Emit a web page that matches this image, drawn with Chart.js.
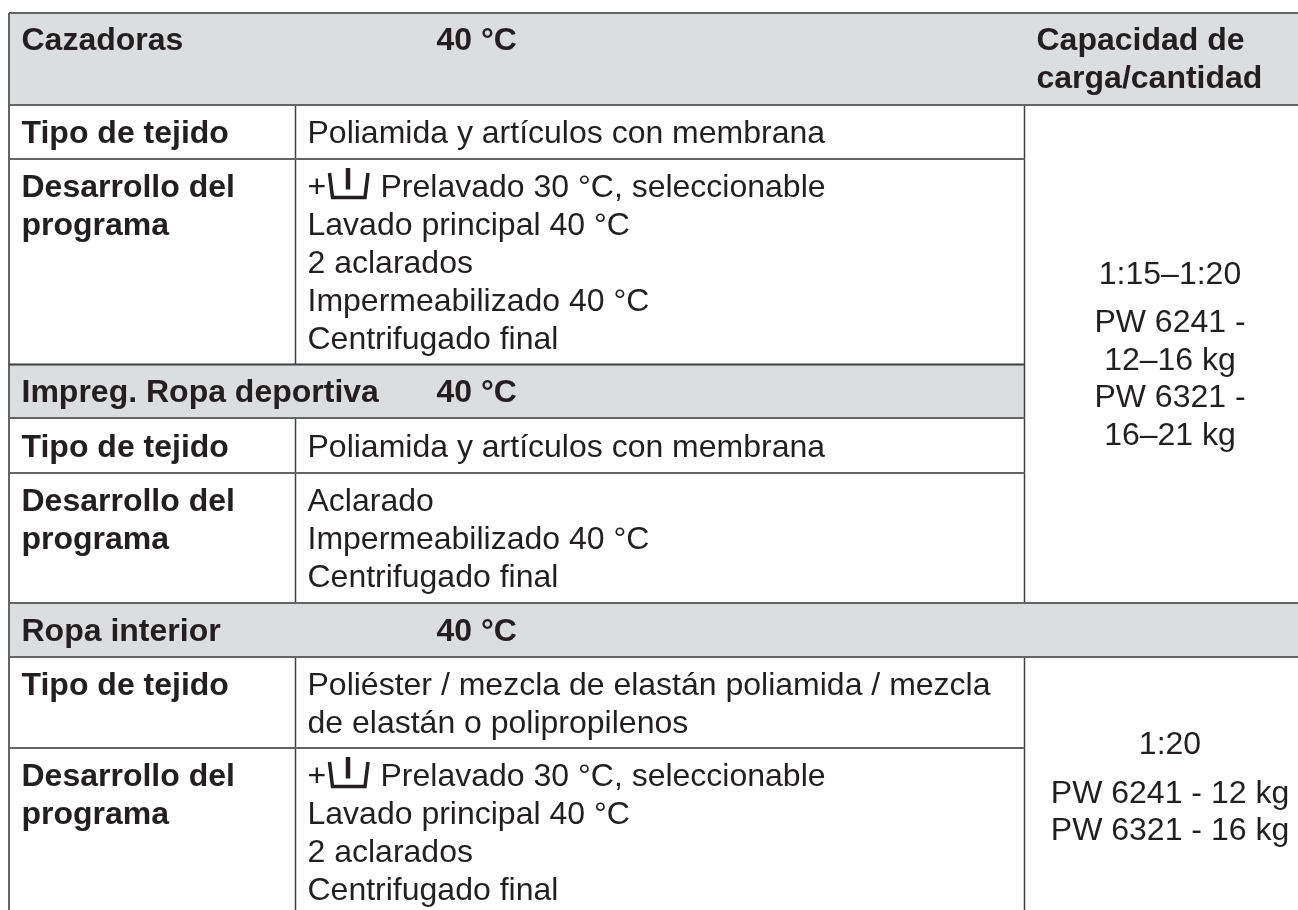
<!DOCTYPE html>
<html lang="es">
<head>
<meta charset="utf-8">
<title>Cazadoras</title>
<script src="https://cdn.jsdelivr.net/npm/chart.js@4/dist/chart.umd.min.js"></script>
<style>
  html, body { margin: 0; padding: 0; background: #fff; overflow: hidden; }
  #wrap { width: 1298px; height: 910px; }
</style>
</head>
<body>
<div id="wrap"><canvas id="tableChart" width="1298" height="910"></canvas></div>
<script>
// Table content
const sectionNames = ["Cazadoras", "Impreg. Ropa deportiva", "Ropa interior"];
const temperature = "40 °C";
const capacityHeader = ["Capacidad de", "carga/cantidad"];
const fabricLabel = "Tipo de tejido";
const programLabel = ["Desarrollo del", "programa"];

const fabricA = ["Poliamida y artículos con membrana"];
const fabricB = ["Poliamida y artículos con membrana"];
const fabricC = ["Poliéster / mezcla de elastán poliamida / mezcla", "de elastán o polipropilenos"];

const prewashStep = "Prelavado 30 °C, seleccionable";
const stepsA = ["Lavado principal 40 °C", "2 aclarados", "Impermeabilizado 40 °C", "Centrifugado final"];
const stepsB = ["Aclarado", "Impermeabilizado 40 °C", "Centrifugado final"];
const stepsC = ["Lavado principal 40 °C", "2 aclarados", "Centrifugado final"];

const ratioA = "1:15–1:20";
const loadA = ["PW 6241 -", "12–16 kg", "PW 6321 -", "16–21 kg"];
const ratioC = "1:20";
const loadC = ["PW 6241 - 12 kg", "PW 6321 - 16 kg"];

// Layout, in the units of the two hidden linear axes
const W = 1298, H = 910;
const left = 9, col1 = 295.5, col2 = 1024.5;
const textX = 21.5, cellX = 307.5, tempX = 436.5, capX = 1036.5, capMid = 1170;
const lineGap = 38;

const INK = "#231f20";
const BAND = "#dcddde";
const RULE = "#636466";
const BOLD = 'bold 32px "Liberation Sans"';
const REGULAR = '32px "Liberation Sans"';

function band(x0, x1, top, bottom) {
  return {
    data: [{ x: x0, y: top }, { x: x1, y: top }],
    showLine: true, borderWidth: 0, pointRadius: 0,
    backgroundColor: BAND, fill: { value: bottom }, order: 3
  };
}

function rule(x0, y0, x1, y1, width, color) {
  return {
    data: [{ x: x0, y: y0 }, { x: x1, y: y1 }],
    showLine: true, borderWidth: width || 2, borderColor: color || RULE,
    pointRadius: 0, fill: false, order: 2
  };
}

// the prewash tub symbol, placed from the baseline of its line
function tub(y) {
  const glyph = [
    { points: [{ x: 329.5, y: y - 24.5 }, { x: 332.5, y: y }, { x: 365, y: y }, { x: 368, y: y - 24.5 }], width: 3.5 },
    { points: [{ x: 348, y: y - 29.5 }, { x: 348, y: y - 8 }], width: 4.5 }
  ];
  return glyph.map(part => ({
    data: part.points, showLine: true, borderWidth: part.width, borderColor: INK,
    pointRadius: 0, fill: false, tension: 0, order: 1
  }));
}

const datasets = [
  band(left, W, 13, 105),
  band(left, col2, 364.5, 418),
  band(left, W, 603, 657),

  rule(left, 13, W, 13),
  rule(left, 105, W, 105),
  rule(left, 159, col2, 159),
  rule(left, 364.5, col2, 364.5, 2, "#3f4042"),
  rule(left, 418, col2, 418),
  rule(left, 473, col2, 473),
  rule(left, 603, W, 603),
  rule(left, 657, W, 657),
  rule(left, 748, col2, 748),

  rule(left, 13, left, H),
  rule(col1, 105, col1, 364.5, 1.5, "#3f4042"),
  rule(col1, 418, col1, 603, 1.5, "#3f4042"),
  rule(col1, 657, col1, H, 1.5, "#3f4042"),
  rule(col2, 105, col2, 603, 1.5, "#3f4042"),
  rule(col2, 657, col2, H, 1.5, "#3f4042"),

  ...tub(197.5),
  ...tub(786.5)
];

// Cell text goes through the same scales as the rules
const cellText = {
  id: "cellText",
  afterDatasetsDraw(chart) {
    const { ctx, scales: { x, y } } = chart;

    function lines(strings, px, baseline, font, align, gap) {
      ctx.font = font;
      ctx.textAlign = align || "left";
      strings.forEach((s, i) => {
        ctx.fillText(s, x.getPixelForValue(px), y.getPixelForValue(baseline + i * (gap || lineGap)));
      });
    }

    ctx.save();
    ctx.fillStyle = INK;
    ctx.textBaseline = "alphabetic";

    lines([sectionNames[0]], textX, 50, BOLD);
    lines([temperature], tempX, 50, BOLD);
    lines(capacityHeader, capX, 50, BOLD);

    lines([fabricLabel], textX, 143, BOLD);
    lines(fabricA, cellX, 143, REGULAR);
    lines(programLabel, textX, 197, BOLD);
    lines(["+"], cellX, 197, REGULAR);
    lines([prewashStep], 380.5, 197, REGULAR);
    lines(stepsA, cellX, 235, REGULAR);

    lines([sectionNames[1]], textX, 402, BOLD);
    lines([temperature], tempX, 402, BOLD);
    lines([fabricLabel], textX, 457, BOLD);
    lines(fabricB, cellX, 457, REGULAR);
    lines(programLabel, textX, 511, BOLD);
    lines(stepsB, cellX, 511, REGULAR);

    lines([ratioA], capMid, 284, REGULAR, "center");
    lines(loadA, capMid, 332, REGULAR, "center", 37.7);

    lines([sectionNames[2]], textX, 641, BOLD);
    lines([temperature], tempX, 641, BOLD);
    lines([fabricLabel], textX, 695, BOLD);
    lines(fabricC, cellX, 695, REGULAR);
    lines(programLabel, textX, 786, BOLD);
    lines(["+"], cellX, 786, REGULAR);
    lines([prewashStep], 380.5, 786, REGULAR);
    lines(stepsC, cellX, 824, REGULAR);

    lines([ratioC], capMid, 754, REGULAR, "center");
    lines(loadC, capMid, 803, REGULAR, "center", 37);

    ctx.restore();
  }
};

new Chart(document.getElementById("tableChart"), {
  type: "scatter",
  data: { datasets },
  plugins: [cellText],
  options: {
    responsive: false,
    animation: false,
    layout: { padding: 0 },
    plugins: { legend: { display: false }, tooltip: { enabled: false }, title: { display: false } },
    scales: {
      x: { type: "linear", display: false, min: 0, max: W },
      y: { type: "linear", display: false, min: 0, max: H, reverse: true }
    }
  }
});
</script>
</body>
</html>
